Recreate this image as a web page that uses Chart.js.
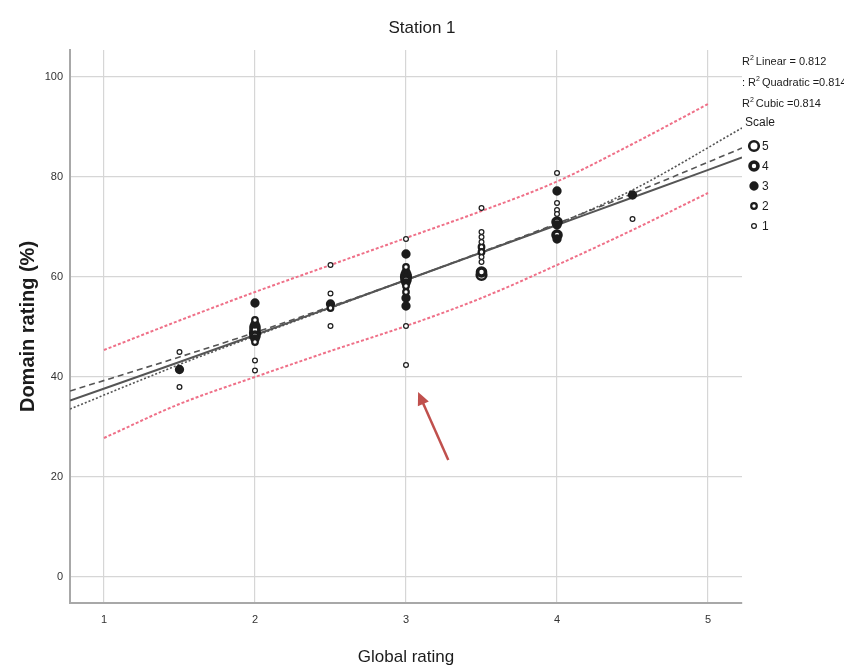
<!DOCTYPE html>
<html>
<head>
<meta charset="utf-8">
<script src="https://cdn.jsdelivr.net/npm/chart.js@4.4.0/dist/chart.umd.min.js"></script>
<style>
  html, body { margin: 0; padding: 0; background: #fff; }
</style>
</head>
<body>
<canvas id="chart" width="844" height="671"></canvas>
<script>
// --- data ---
const TITLE = 'Station 1';
const X_TICKS = [1, 2, 3, 4, 5];
const Y_TICKS = [0, 20, 40, 60, 80, 100];

// observed cases: global rating, domain rating (%), scale (point size)
const POINT_X = [
  1.5, 1.5, 1.5,
  2, 2, 2, 2, 2, 2, 2, 2, 2, 2, 2,
  2.5, 2.5, 2.5, 2.5, 2.5,
  3, 3, 3, 3, 3, 3, 3, 3, 3, 3, 3, 3, 3, 3,
  3.5, 3.5, 3.5, 3.5, 3.5, 3.5, 3.5, 3.5, 3.5, 3.5,
  4, 4, 4, 4, 4, 4, 4, 4, 4,
  4.5, 4.5
];
const POINT_Y = [
  45, 41.5, 38,
  54.8, 51.4, 50.6, 50, 49.4, 48.8, 48.2, 47.6, 47, 43.3, 41.3,
  62.4, 56.7, 54.6, 53.8, 50.2,
  67.6, 64.6, 62, 61, 60.4, 60, 59.4, 58.8, 58.2, 57, 55.8, 54.2, 50.2, 42.4,
  73.8, 69, 68, 67, 66, 65, 64, 63, 61, 60.4,
  80.8, 77.2, 74.8, 73.4, 72.6, 71, 70.4, 68.4, 67.6,
  76.4, 71.6
];
const POINT_SCALE = [
  1, 3, 1,
  3, 2, 3, 4, 4, 5, 4, 3, 2, 1, 1,
  1, 1, 3, 2, 1,
  1, 3, 2, 3, 4, 5, 4, 3, 2, 2, 3, 3, 1, 1,
  1, 1, 1, 1, 2, 2, 1, 1, 4, 5,
  1, 3, 1, 1, 1, 4, 3, 4, 3,
  3, 1
];

// fit lines
const FIT_X    = [0.775, 1.5, 2, 2.5, 3, 3.5, 4, 4.5, 5.225];
const LINEAR_Y = [35.3, 43.0, 48.4, 53.9, 59.4, 64.9, 70.4, 75.9, 83.9];
const QUAD_Y   = [37.2, 44.0, 48.9, 54.1, 59.4, 65.0, 70.7, 76.7, 85.8];
const CUBIC_Y  = [33.6, 42.5, 48.2, 53.8, 59.4, 64.9, 70.6, 77.4, 89.8];

// prediction interval
const BAND_X  = [1, 1.5, 2, 2.5, 3, 3.5, 4, 4.5, 5];
const UPPER_Y = [45.4, 51.3, 57.0, 62.4, 67.8, 73.2, 79.1, 86.6, 94.6];
const LOWER_Y = [27.8, 34.6, 40.0, 45.2, 50.2, 55.8, 62.4, 69.4, 76.8];

const SCALE_LEVELS = [1, 2, 3, 4, 5];
const LEGEND_FITS = ['Linear = 0.812', 'Quadratic =0.814', 'Cubic =0.814'];

// arrow annotation (data units): tail -> tip
const ARROW = { x0: 3.28, y0: 23.4, x1: 3.08, y1: 37 };

// --- styles ---
const FONT = '"Liberation Sans Narrow", "Liberation Sans", Arial, sans-serif';
const INK = '#1c1c1c';
const PINK = '#ef7088';
const LINE_GRAY = '#555555';
const MARKER = {
  1: { r: 2.4, bw: 1.2, fill: '#ffffff' },
  2: { r: 2.8, bw: 2.2, fill: '#ffffff' },
  3: { r: 3.1, bw: 3.1, fill: INK },
  4: { r: 4.0, bw: 3.6, fill: '#ffffff' },
  5: { r: 4.8, bw: 2.6, fill: '#ffffff' }
};

const pts = (xs, ys) => xs.map((x, i) => ({ x: x, y: ys[i] }));

const pointSets = SCALE_LEVELS.map(s => ({
  label: 'Scale ' + s,
  data: POINT_X.map((x, i) => ({ x: x, y: POINT_Y[i], s: POINT_SCALE[i] })).filter(p => p.s === s),
  pointRadius: MARKER[s].r,
  pointBorderWidth: MARKER[s].bw,
  pointBackgroundColor: MARKER[s].fill,
  pointBorderColor: INK,
  pointHoverRadius: MARKER[s].r,
  showLine: false,
  order: 0
}));

const lineSet = (label, data, color, width, dash, order) => ({
  label: label,
  data: data,
  showLine: true,
  borderColor: color,
  borderWidth: width,
  borderDash: dash,
  pointRadius: 0,
  cubicInterpolationMode: 'monotone',
  fill: false,
  order: order
});

const datasets = [
  ...pointSets,
  lineSet('Linear', pts(FIT_X, LINEAR_Y), LINE_GRAY, 2, [], 1),
  lineSet('Quadratic', pts(FIT_X, QUAD_Y), LINE_GRAY, 1.6, [6, 4], 1),
  lineSet('Cubic', pts(FIT_X, CUBIC_Y), LINE_GRAY, 1.6, [2, 2], 1),
  lineSet('Upper', pts(BAND_X, UPPER_Y), PINK, 2, [3, 2], 2),
  lineSet('Lower', pts(BAND_X, LOWER_Y), PINK, 2, [3, 2], 2)
];

const extras = {
  id: 'extras',
  afterDraw(chart) {
    const { ctx, scales: { x, y } } = chart;
    ctx.save();

    // title, centred on the whole picture
    ctx.fillStyle = INK;
    ctx.textAlign = 'center';
    ctx.textBaseline = 'middle';
    ctx.font = '17px ' + FONT;
    ctx.fillText(TITLE, chart.width / 2, 28);

    // red arrow
    const tx = x.getPixelForValue(ARROW.x0), ty = y.getPixelForValue(ARROW.y0);
    const hx = x.getPixelForValue(ARROW.x1), hy = y.getPixelForValue(ARROW.y1);
    const ang = Math.atan2(hy - ty, hx - tx);
    ctx.strokeStyle = '#c0504d';
    ctx.fillStyle = '#c0504d';
    ctx.lineWidth = 2.5;
    ctx.beginPath();
    ctx.moveTo(tx, ty);
    ctx.lineTo(hx - 8 * Math.cos(ang), hy - 8 * Math.sin(ang));
    ctx.stroke();
    ctx.beginPath();
    ctx.moveTo(hx, hy);
    ctx.lineTo(hx - 13 * Math.cos(ang) + 6 * Math.sin(ang), hy - 13 * Math.sin(ang) - 6 * Math.cos(ang));
    ctx.lineTo(hx - 13 * Math.cos(ang) - 6 * Math.sin(ang), hy - 13 * Math.sin(ang) + 6 * Math.cos(ang));
    ctx.closePath();
    ctx.fill();

    // legend on the right
    const lx = chart.chartArea.right;
    ctx.fillStyle = INK;
    ctx.textBaseline = 'middle';
    ctx.textAlign = 'left';
    LEGEND_FITS.forEach((txt, i) => {
      const yy = 62 + i * 21;
      let cx = lx;
      ctx.font = '11px ' + FONT;
      if (i === 1) { ctx.fillText(': ', cx, yy); cx += ctx.measureText(': ').width; }
      ctx.fillText('R', cx, yy);
      cx += ctx.measureText('R').width;
      ctx.font = '7px ' + FONT;
      ctx.fillText('2', cx, yy - 4);
      cx += ctx.measureText('2').width + 2;
      ctx.font = '11px ' + FONT;
      ctx.fillText(txt, cx, yy);
    });
    ctx.font = '12px ' + FONT;
    ctx.fillText('Scale', lx + 3, 123);
    [...SCALE_LEVELS].reverse().forEach((s, i) => {
      const yy = 146 + i * 20;
      const m = MARKER[s];
      ctx.beginPath();
      ctx.arc(lx + 12, yy, m.r, 0, Math.PI * 2);
      ctx.fillStyle = m.fill;
      ctx.fill();
      ctx.lineWidth = m.bw;
      ctx.strokeStyle = INK;
      ctx.stroke();
      ctx.fillStyle = INK;
      ctx.font = '12px ' + FONT;
      ctx.fillText(String(s), lx + 20, yy + 1);
    });
    ctx.restore();
  }
};

new Chart(document.getElementById('chart'), {
  type: 'scatter',
  data: { datasets: datasets },
  options: {
    responsive: false,
    animation: false,
    layout: { padding: { left: 0, right: 102, top: 50, bottom: 0 } },
    plugins: {
      legend: { display: false },
      tooltip: { enabled: false },
      title: { display: false }
    },
    scales: {
      x: {
        type: 'linear',
        min: 0.775,
        max: 5.225,
        afterFit: s => { s.height = 68; },
        afterBuildTicks: s => { s.ticks = X_TICKS.map(v => ({ value: v })); },
        grid: { color: '#d6d6d6', lineWidth: 1.2, drawTicks: false },
        border: { color: '#a8a8a8', width: 2 },
        ticks: { color: '#333', font: { family: FONT, size: 11 }, padding: 10 },
        title: {
          display: true,
          text: 'Global rating',
          color: INK,
          font: { family: FONT, size: 17, weight: 'normal' },
          padding: { top: 3, bottom: 3 }
        }
      },
      y: {
        type: 'linear',
        min: -5.2,
        max: 105.4,
        afterFit: s => { s.width = 70; },
        afterBuildTicks: s => { s.ticks = Y_TICKS.map(v => ({ value: v })); },
        grid: { color: '#d6d6d6', lineWidth: 1.2, drawTicks: false },
        border: { color: '#a8a8a8', width: 2 },
        ticks: { color: '#333', font: { family: FONT, size: 11 }, padding: 7 },
        title: {
          display: true,
          text: 'Domain rating (%)',
          color: INK,
          font: { family: FONT, size: 20, weight: 'bold' },
          padding: { top: 16, bottom: 16 }
        }
      }
    }
  },
  plugins: [extras]
});
</script>
</body>
</html>
